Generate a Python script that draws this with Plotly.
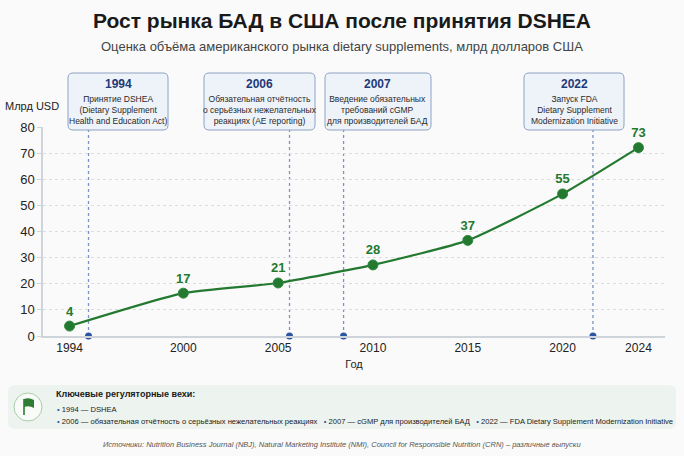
import plotly.graph_objects as go

# market size, bln USD
years = [1994, 2000, 2005, 2010, 2015, 2020, 2024]
market = [3.8, 16.4, 20.3, 27.2, 36.6, 54.4, 72.1]
market_labels = ["4", "17", "21", "28", "37", "55", "73"]

# regulatory milestones (x positions)
milestone_x = [1995.0, 2005.6, 2008.45, 2021.6]
milestone_years = ["1994", "2006", "2007", "2022"]
milestone_text = [
    "Принятие DSHEA<br>(Dietary Supplement<br>Health and Education Act)",
    "Обязательная отчётность<br>о серьёзных нежелательных<br>реакциях (AE reporting)",
    "Введение обязательных<br>требований cGMP<br>для производителей БАД",
    "Запуск FDA<br>Dietary Supplement<br>Modernization Initiative",
]
box_centers = [118, 259.5, 378, 574]   # px
box_widths = [100, 111, 106, 100]

x_ticks = [1994, 2000, 2005, 2010, 2015, 2020, 2024]
y_ticks = [0, 10, 20, 30, 40, 50, 60, 70, 80]

W, H = 684, 456
L, R, T, B = 43, 19, 127, 120
FONT = "Liberation Sans, Arial, sans-serif"
GREEN = "#23792f"
BLUE = "#2c56a3"


def px(x):
    return (x - L) / (W - L - R)


def py(y):
    return (H - B - y) / (H - T - B)


def rrect(x0, y0, x1, y1, r=5):
    # rounded rectangle path in paper coords from pixel box
    pts = (f"M {px(x0 + r)},{py(y0)} L {px(x1 - r)},{py(y0)} "
           f"Q {px(x1)},{py(y0)} {px(x1)},{py(y0 + r)} L {px(x1)},{py(y1 - r)} "
           f"Q {px(x1)},{py(y1)} {px(x1 - r)},{py(y1)} L {px(x0 + r)},{py(y1)} "
           f"Q {px(x0)},{py(y1)} {px(x0)},{py(y1 - r)} L {px(x0)},{py(y0 + r)} "
           f"Q {px(x0)},{py(y0)} {px(x0 + r)},{py(y0)} Z")
    return pts


def note(x, y, text, size, color="#222222", anchor="center"):
    return dict(xref="paper", yref="paper", x=px(x), y=py(y), text=text, showarrow=False,
                xanchor=anchor, yanchor="middle", font=dict(family=FONT, size=size, color=color))


fig = go.Figure()

fig.add_trace(go.Scatter(
    x=years, y=market, mode="lines+markers+text",
    line=dict(color=GREEN, width=2.2, shape="spline", smoothing=0.5),
    marker=dict(size=10, color=GREEN, line=dict(color="#2f8a3b", width=1)),
    text=market_labels, textposition="top center",
    textfont=dict(family=FONT, size=13, color=GREEN, weight="bold"),
    cliponaxis=False, hoverinfo="skip", showlegend=False,
))

fig.add_trace(go.Scatter(
    x=milestone_x, y=[0] * len(milestone_x), mode="markers",
    marker=dict(size=7, color=BLUE), cliponaxis=False,
    hoverinfo="skip", showlegend=False,
))

shapes = []
annotations = []

box_top, box_bot = 73, 130
for mx, yr, txt, cx, bw in zip(milestone_x, milestone_years, milestone_text, box_centers, box_widths):
    shapes.append(dict(type="line", xref="x", yref="paper", x0=mx, x1=mx, y0=0, y1=py(box_bot),
                       line=dict(color="#7d94bf", width=1.3, dash="dot"), layer="below"))
    shapes.append(dict(type="path", xref="paper", yref="paper",
                       path=rrect(cx - bw / 2, box_top, cx + bw / 2, box_bot),
                       fillcolor="#eef2f9", line=dict(color="#8ea2c4", width=1)))
    annotations.append(note(cx, 84, f"<b>{yr}</b>", 12, "#1f3a78"))
    annotations.append(note(cx, 110, txt, 8.5, "#2a2a2a"))

# titles
annotations.append(note(342, 20, "<b>Рост рынка БАД в США после принятия DSHEA</b>", 21, "#1a1a1a"))
annotations.append(note(342, 46, "Оценка объёма американского рынка dietary supplements, млрд долларов США",
                        13, "#444444"))
annotations.append(note(32, 106, "Млрд USD", 11))

# bottom panel
shapes.append(dict(type="path", xref="paper", yref="paper",
                   path=rrect(8, 385, 676, 429, 7), fillcolor="#edf3ee",
                   line=dict(width=0), layer="below"))
shapes.append(dict(type="circle", xref="paper", yref="paper",
                   x0=px(14), x1=px(42), y0=py(421), y1=py(393),
                   fillcolor="#f8fbf8", line=dict(color="#a9cdaa", width=1)))
shapes.append(dict(type="line", xref="paper", yref="paper",
                   x0=px(24), x1=px(24), y0=py(399), y1=py(415),
                   line=dict(color="#2e7d32", width=1.6)))
shapes.append(dict(type="path", xref="paper", yref="paper",
                   path=(f"M {px(24)},{py(399)} Q {px(29)},{py(397)} {px(34)},{py(400)} "
                         f"L {px(34)},{py(408)} Q {px(29)},{py(405)} {px(24)},{py(407)} Z"),
                   fillcolor="#2e7d32", line=dict(width=0)))

annotations.append(note(54, 394, "<b>Ключевые регуляторные вехи:</b>", 9, "#1a1a1a", "left"))
dot = "<span style='color:#2c56a3'>•</span>"
annotations.append(note(55, 409, f"{dot} 1994 — DSHEA", 7.6, anchor="left"))
annotations.append(note(55, 421,
                        f"{dot} 2006 — обязательная отчётность о серьёзных нежелательных реакциях"
                        f"   {dot} 2007 — cGMP для производителей БАД"
                        f"   {dot} 2022 — FDA Dietary Supplement Modernization Initiative",
                        7.6, anchor="left"))
annotations.append(note(342, 444,
                        "<i>Источники: Nutrition Business Journal (NBJ), Natural Marketing Institute (NMI), "
                        "Council for Responsible Nutrition (CRN) – различные выпуски</i>",
                        7.5, "#555555"))

fig.update_layout(
    width=W, height=H,
    margin=dict(l=L, r=R, t=T, b=B),
    paper_bgcolor="#fafafa", plot_bgcolor="#fafafa",
    shapes=shapes, annotations=annotations,
    font=dict(family=FONT, color="#222222"),
)
fig.update_xaxes(range=[1992.6, 2025.4], tickvals=x_ticks, showgrid=False,
                 showline=True, linecolor="#cfd3da", linewidth=1.5, zeroline=False,
                 tickfont=dict(size=12, color="#222222"),
                 title=dict(text="Год", font=dict(size=11, color="#222222"), standoff=6))
fig.update_yaxes(range=[0, 80], tickvals=y_ticks, showgrid=True, gridcolor="#dcdcdc",
                 griddash="dot", zeroline=False, showline=True, linecolor="#cfd3da",
                 linewidth=1.5, ticks="outside", ticklen=4, tickcolor="#cfd3da",
                 tickfont=dict(size=13, color="#222222"))

fig.write_html("out.html", config={"displayModeBar": False},
               post_script="document.body.style.margin='0px';")
